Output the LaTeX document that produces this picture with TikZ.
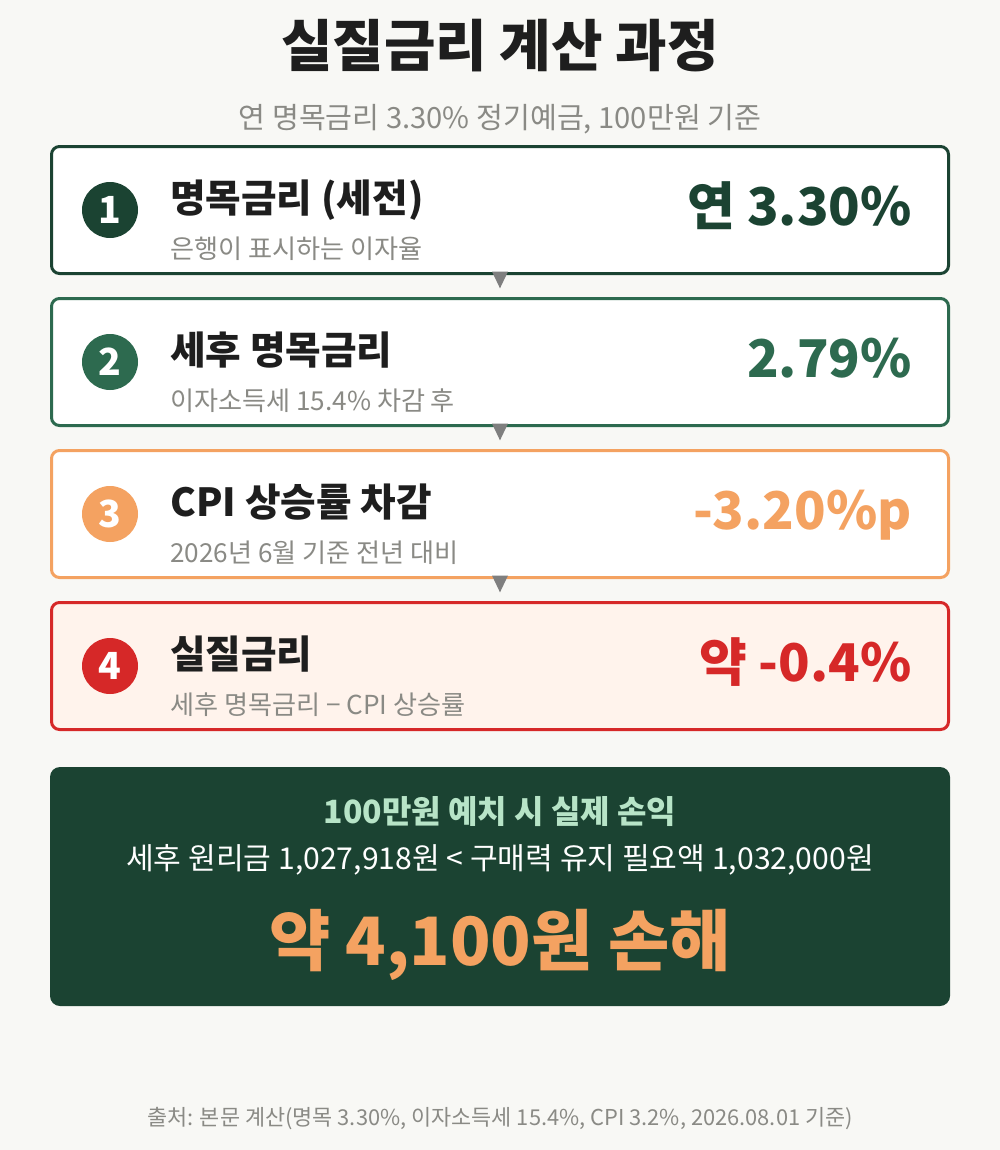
\documentclass[tikz,border=0pt]{standalone}
\usepackage{fontspec}
\setmainfont{Noto Sans CJK KR}
\usetikzlibrary{math}

\definecolor{bgpaper}{HTML}{F8F8F5}
\definecolor{deepgreen}{HTML}{1B4332}
\definecolor{midgreen}{HTML}{2D6A4F}
\definecolor{warmorange}{HTML}{F4A261}
\definecolor{alertred}{HTML}{D62828}
\definecolor{palepeach}{HTML}{FFF3EC}
\definecolor{mintlight}{HTML}{B7E4C7}
\definecolor{softgray}{HTML}{8A8A85}
\definecolor{arrowgray}{HTML}{7F7F7F}
\definecolor{inkblack}{HTML}{1E1E1E}

\tikzset{
    stepcard/.style={draw, rounded corners=6pt, line width=2.25pt,
        minimum width=672.75pt, minimum height=95.25pt, inner sep=0pt},
    numdot/.style={circle, minimum size=42pt, inner sep=0pt, text=white,
        font=\bfseries\fontsize{28}{28}\selectfont},
    cardtitle/.style={anchor=base west, inner sep=0pt, text=inkblack,
        font=\bfseries\fontsize{29}{32}\selectfont},
    cardsub/.style={anchor=base west, inner sep=0pt, text=softgray,
        font=\fontsize{19.6}{22}\selectfont},
    cardvalue/.style={anchor=base east, inner sep=0pt,
        font=\bfseries\fontsize{39}{42}\selectfont},
    resultpanel/.style={fill=deepgreen, rounded corners=7.5pt,
        minimum width=675pt, minimum height=179.25pt, inner sep=0pt},
}

\begin{document}
\begin{tikzpicture}[x=0.75pt,y=-0.75pt]

% Page background
\fill[bgpaper] (0,0) rectangle (1000,1150);

% Heading
\node[anchor=base, inner sep=0pt, text=inkblack,
    font=\bfseries\fontsize{42}{46}\selectfont] (heading) at (500,66) {실질금리 계산 과정};
\node[anchor=base, inner sep=0pt, text=softgray,
    font=\fontsize{21.9}{24}\selectfont] (subheading) at (500,128) {연 명목금리 3.30\% 정기예금, 100만원 기준};

% Step cards
\foreach \i/\edge/\inner/\ttl/\sub/\val in {
    1/deepgreen/white/명목금리 (세전)/은행이 표시하는 이자율/연 3.30\%,
    2/midgreen/white/세후 명목금리/이자소득세 15.4\% 차감 후/2.79\%,
    3/warmorange/white/CPI 상승률 차감/2026년 6월 기준 전년 대비/-3.20\%p,
    4/alertred/palepeach/실질금리/세후 명목금리 − CPI 상승률/약 -0.4\%} {

    \tikzmath{
        \cy = 210 + (\i-1)*152;
    }

    \node[stepcard, draw=\edge, fill=\inner] (card\i) at (500,\cy) {};
    \node[numdot, fill=\edge] (num\i) at (110,\cy) {\i};
    \node[cardtitle] (title\i) at (170,{\cy+2}) {\ttl};
    \node[cardsub] (sub\i) at (170,{\cy+48}) {\sub};
    \node[cardvalue, text=\edge] (value\i) at (912,{\cy+15}) {\val};
}

% Arrow heads between the cards
\foreach \i in {1,2,3} {
    \fill[arrowgray]
    ([xshift=-6pt,yshift=2.6pt]card\i.south)
    -- ([xshift=6pt,yshift=2.6pt]card\i.south)
    -- ([yshift=-10pt]card\i.south)
    -- cycle;
}

% Result panel
\node[resultpanel] (result) at (500,886.5) {};
\node[anchor=base, inner sep=0pt, text=mintlight,
    font=\bfseries\fontsize{24}{27}\selectfont] (resulthead) at (500,823) {100만원 예치 시 실제 손익};
\node[anchor=base, inner sep=0pt, text=white,
    font=\fontsize{22.6}{25}\selectfont] (resultline) at (500,869) {세후 원리금 1,027,918원 < 구매력 유지 필요액 1,032,000원};
\node[anchor=base, inner sep=0pt, text=warmorange,
    font=\bfseries\fontsize{50}{54}\selectfont] (resultloss) at (500,965) {약 4,100원 손해};

% Source note
\node[anchor=base, inner sep=0pt, text=softgray,
    font=\fontsize{16.4}{19}\selectfont] (source) at (500,1125) {출처: 본문 계산(명목 3.30\%, 이자소득세 15.4\%, CPI 3.2\%, 2026.08.01 기준)};

\end{tikzpicture}
\end{document}
